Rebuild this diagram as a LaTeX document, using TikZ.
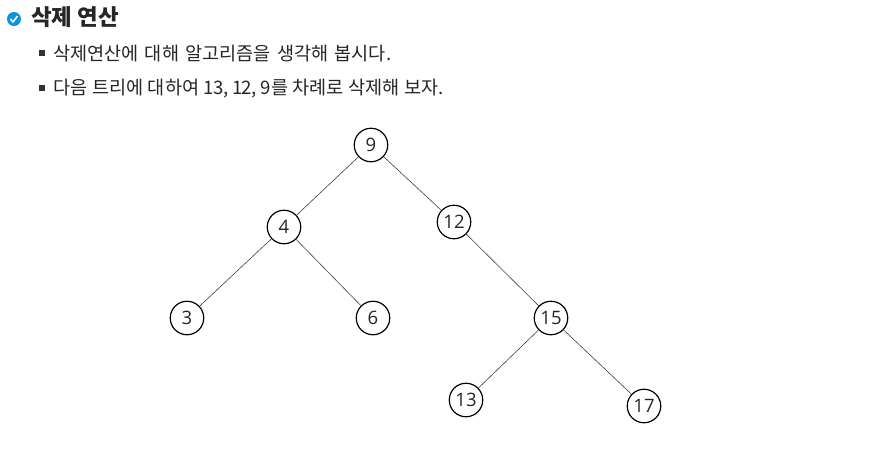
\documentclass[tikz,border=0pt]{standalone}
\usepackage{fontspec}
\setmainfont{Noto Sans CJK KR}
\newfontfamily\numfont{Open Sans}
\begin{document}
\begin{tikzpicture}[x=1pt,y=-1pt,
  tn/.style={circle,draw=black,line width=1.2pt,minimum size=33.5pt,inner sep=0pt,font=\fontsize{18.5}{20}\selectfont\numfont,text=black!85,fill=white},
  ed/.style={draw=black!75,line width=0.6pt},
  bul/.style={fill=black!80,minimum size=6pt,inner sep=0pt},
  tx/.style={anchor=west,inner sep=0pt,text=black!85,font=\fontsize{18.6}{22}\selectfont}]
\useasboundingbox (0,0) rectangle (887,448);
\node[tn] (n9) at (371,145) {9};
\node[tn] (n4) at (284,227) {4};
\node[tn] (n12) at (454,222) {12};
\node[tn] (n3) at (187,318) {3};
\node[tn] (n6) at (373,318) {6};
\node[tn] (n15) at (551,318) {15};
\node[tn] (n13) at (466,400) {13};
\node[tn] (n17) at (644,406) {17};
\draw[ed] (n9)--(n4); \draw[ed] (n9)--(n12); \draw[ed] (n4)--(n3); \draw[ed] (n4)--(n6);
\draw[ed] (n12)--(n15); \draw[ed] (n15)--(n13); \draw[ed] (n15)--(n17);
\node[circle,fill=cyan!80!blue,minimum size=14pt,inner sep=0pt] (chk) at (14,19) {};
\draw[white,line width=1.6pt] (10.5,19)--(13,22)--(17.5,16);
\node[tx,font=\fontsize{22.4}{26}\selectfont\bfseries] (t) at (31,17) {삭제 연산};
\node[bul] (b1) at (42,53) {};
\node[bul] (b2) at (42,88) {};
\node[tx] (l1) at (53,53.5) {\spaceskip=6.2pt 삭제연산에 대해 알고리즘을 생각해 봅시다.};
\node[tx] (l2) at (53,88.5) {\spaceskip=4.6pt 다음 트리에 대하여 1\kern-1pt3,\kern-1pt{} 1\kern-1pt2,\kern-1pt{} 9를 차례로 삭제해 보자.};
\end{tikzpicture}
\end{document}
